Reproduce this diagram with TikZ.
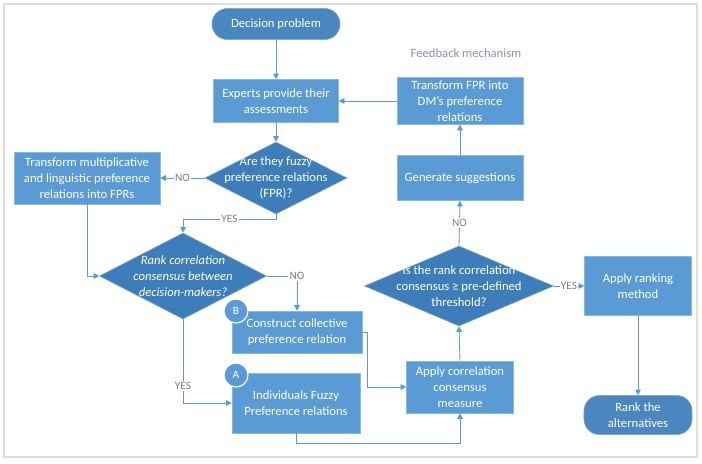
\documentclass[tikz,border=0pt]{standalone}
\usepackage{fontspec}
\setmainfont{Carlito}
\usetikzlibrary{shapes.geometric, arrows.meta}

\definecolor{caixaazul}{HTML}{5B9BD5}
\definecolor{losangoazul}{HTML}{3D7DBA}
\definecolor{pilulaazul}{HTML}{4A86C0}
\definecolor{linhaazul}{HTML}{5B9BD5}
\definecolor{rotulocinza}{HTML}{7F7F7F}
\definecolor{feedbackcor}{HTML}{8497B0}

\begin{document}
\begin{tikzpicture}[x=0.025cm, y=-0.025cm,
    every node/.style={font=\fontsize{9}{11.5}\selectfont, text=white, align=center},
    caixa/.style={rectangle, fill=caixaazul, draw=caixaazul!70!white, line width=0.4pt, inner sep=2pt},
    pilula/.style={rectangle, rounded corners=0.38cm, fill=pilulaazul, draw=pilulaazul!70!white, line width=0.4pt},
    losango/.style={diamond, fill=losangoazul, draw=losangoazul!70!white, line width=0.4pt, inner sep=0pt},
    letra/.style={circle, fill=caixaazul, draw=white, line width=0.8pt, minimum size=0.6cm, inner sep=0pt, font=\fontsize{8}{10}\selectfont},
    rotulo/.style={text=rotulocinza, fill=white, inner sep=1pt, font=\fontsize{8}{10}\selectfont},
    seta/.style={draw=linhaazul, line width=0.6pt, -{Triangle[length=4pt, width=4pt]}}]

        % Moldura
        \fill[white] (0,0) rectangle (702,463);
        \draw[black!13, line width=1.2pt] (4,4) rectangle (697,457);

        % Nós
        \node[pilula, minimum width=3.2cm, minimum height=0.775cm] (dp) at (276,24) {Decision problem};
        \node[caixa, minimum width=3.125cm, minimum height=1.075cm] (exp) at (276,101) {Experts provide their\\assessments};
        \node[losango, minimum width=3.55cm, minimum height=1.8cm] (q1) at (276,178) {};
        \node (q1t) at (q1) {Are they fuzzy\\preference relations\\(FPR)?};
        \node[caixa, minimum width=3.65cm, minimum height=1.3cm] (tm) at (87,178) {Transform multiplicative\\and linguistic preference\\relations into FPRs};
        \node[losango, minimum width=4.175cm, minimum height=2.15cm] (q2) at (183,276) {};
        \node[font=\fontsize{9}{11.5}\selectfont\itshape] (q2t) at (q2) {Rank correlation\\consensus between\\decision-makers?};
        \node[caixa, minimum width=3.25cm, minimum height=1.05cm] (b) at (297,332) {Construct collective\\preference relation};
        \node[caixa, minimum width=3.2cm, minimum height=1.5cm] (a) at (296,403) {Individuals Fuzzy\\Preference relations};
        \node[letra] (lb) at (236,311) {B};
        \node[letra] (la) at (236,375) {A};
        \node[caixa, minimum width=2.675cm, minimum height=1.3cm] (ac) at (460,387) {Apply correlation\\consensus\\measure};
        \node[losango, minimum width=4.725cm, minimum height=2.0cm] (q3) at (459,286) {};
        \node (q3t) at (q3) {Is the rank correlation\\consensus ≥ pre-defined\\threshold?};
        \node[caixa, minimum width=2.675cm, minimum height=1.475cm] (ar) at (638,286) {Apply ranking\\method};
        \node[pilula, minimum width=2.7cm, minimum height=0.975cm] (rk) at (638,415) {Rank the\\alternatives};
        \node[caixa, minimum width=3.15cm, minimum height=1.125cm] (gs) at (460,178) {Generate suggestions};
        \node[caixa, minimum width=3.15cm, minimum height=1.15cm] (tf) at (460,101) {Transform FPR into\\DM’s preference\\relations};
        \node[text=feedbackcor] (fb) at (466,53) {Feedback mechanism};

        % Arestas
        \draw[seta] (dp) -- (exp);
        \draw[seta] (exp) -- (q1);
        \draw[seta] (q1.west) -- node[rotulo] {NO} (tm.east);
        \draw[seta] (q1.south) -- ++(0,5) -| node[rotulo, pos=0.25] {YES} (q2.north);
        \draw[seta] (tm.south) |- (q2.west);
        \draw[seta] (q2.east) -| node[rotulo, pos=0.5] {NO} (b.north);
        \draw[seta] (q2.south) |- node[rotulo, pos=0.4] {YES} (a.west);
        \draw[seta] (b.east) -- ++(5,0) |- (ac.west);
        \draw[seta] (a.south) -- ++(0,10) -| (ac.south);
        \draw[seta] (ac.north) -- (q3.south);
        \draw[seta] (q3.east) -- node[rotulo] {YES} (ar.west);
        \draw[seta] (ar.south) -- (rk.north);
        \draw[seta] (q3.north) -- node[rotulo] {NO} (gs.south);
        \draw[seta] (gs.north) -- (tf.south);
        \draw[seta] (tf.west) -- (exp.east);

    \end{tikzpicture}
\end{document}
